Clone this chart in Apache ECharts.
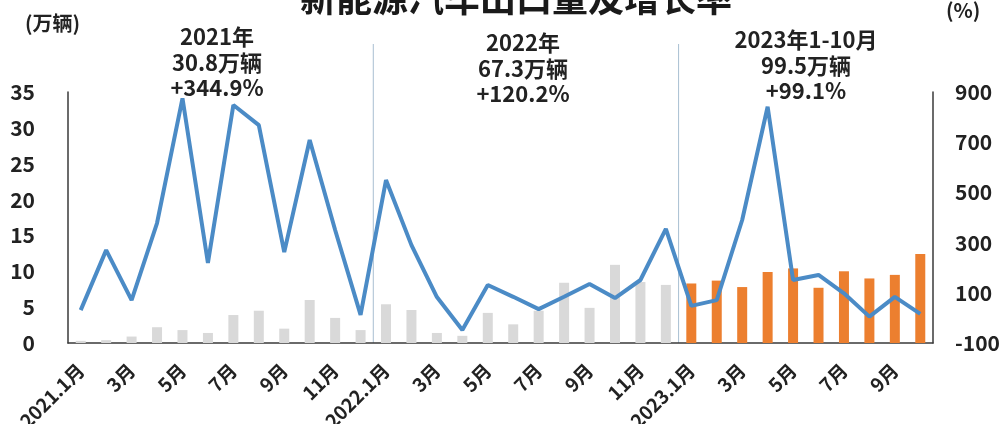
<!DOCTYPE html>
<html><head><meta charset="utf-8">
<script src="https://cdn.jsdelivr.net/npm/echarts@6/dist/echarts.min.js"></script>
<style>html,body{margin:0;padding:0;background:#fff}#c{width:1008px;height:424px}</style>
</head><body><div id="c"></div>
<script>
const categories = [
  '2021.1月','2月','3月','4月','5月','6月','7月','8月','9月','10月','11月','12月',
  '2022.1月','2月','3月','4月','5月','6月','7月','8月','9月','10月','11月','12月',
  '2023.1月','2月','3月','4月','5月','6月','7月','8月','9月','10月'
];
// 出口量（万辆）
const volume = [
  0.3,0.4,0.9,2.2,1.8,1.4,3.9,4.5,2.0,6.0,3.5,1.8,
  5.4,4.6,1.4,1.0,4.2,2.6,4.5,8.4,4.9,10.9,8.5,8.1,
  8.3,8.7,7.8,9.9,10.4,7.7,10.0,9.0,9.5,12.4
];
// 增长率（%）
const growth = [
  31,270,71,378,875,219,848,768,262,709,350,12,
  549,290,83,-48,131,84,35,84,135,79,151,355,
  48,71,390,841,151,171,98,5,84,16
];
const highlightStart = 24; // 2023年起用橙色
const annotations = [
  {lines: ['2021年','30.8万辆','+344.9%']},
  {lines: ['2022年','67.3万辆','+120.2%']},
  {lines: ['2023年1-10月','99.5万辆','+99.1%']}
];
const titleText = '新能源汽车出口量及增长率';
const leftUnit = '(万辆)';
const rightUnit = '(%)';

const FONT = '"Noto Sans CJK SC","Noto Sans",sans-serif';
const chart = echarts.init(document.getElementById('c'), null, {renderer: 'canvas'});
const axisLineStyle = {color: '#3a3a3a', width: 1.5};

chart.setOption({
  animation: false,
  backgroundColor: '#fff',
  grid: {left: 68, right: 75, top: 92, bottom: 81, containLabel: false, outerBoundsMode: 'none'},
  xAxis: {
    type: 'category',
    data: categories,
    boundaryGap: true,
    axisLine: {lineStyle: axisLineStyle},
    axisTick: {show: false},
    axisLabel: {
      interval: 1, rotate: 45, margin: 24,
      fontFamily: FONT, fontWeight: 'bold', fontSize: 19, color: '#222'
    },
    splitLine: {show: false}
  },
  yAxis: [
    {
      type: 'value', min: 0, max: 35, interval: 5,
      axisLine: {show: true, lineStyle: axisLineStyle},
      axisTick: {show: false},
      splitLine: {show: false},
      axisLabel: {margin: 33, fontFamily: FONT, fontWeight: 'bold', fontSize: 21, color: '#222'}
    },
    {
      type: 'value', min: -100, max: 900, interval: 200,
      position: 'right',
      axisLine: {show: true, lineStyle: axisLineStyle},
      axisTick: {show: false},
      splitLine: {show: false},
      axisLabel: {margin: 22, fontFamily: FONT, fontWeight: 'bold', fontSize: 21, color: '#222'}
    }
  ],
  series: [
    {
      name: '出口量', type: 'bar', yAxisIndex: 0, barWidth: 10,
      data: volume,
      itemStyle: {color: p => p.dataIndex >= highlightStart ? '#ec7f2f' : '#d9d9d9'}
    },
    {
      name: '增长率', type: 'line', yAxisIndex: 1, data: growth,
      showSymbol: false, symbol: 'none',
      lineStyle: {color: '#4b8bc6', width: 4},
      z: 5
    }
  ]
});

function place() {
  const px = i => chart.convertToPixel({xAxisIndex: 0}, i);
  const y0 = chart.convertToPixel({yAxisIndex: 0}, 0);
  const elements = [];
  elements.push({
    type: 'text', x: 516, y: -2,
    style: {text: titleText, font: 'bold 36px ' + FONT, fill: '#1a1a1a',
            textAlign: 'center', textVerticalAlign: 'middle'}
  });
  elements.push({
    type: 'text', x: 25, y: 23,
    style: {text: leftUnit, font: 'bold 20px ' + FONT, fill: '#222', textVerticalAlign: 'middle'}
  });
  elements.push({
    type: 'text', x: 946, y: 10,
    style: {text: rightUnit, font: 'bold 20px ' + FONT, fill: '#222', textVerticalAlign: 'middle'}
  });
  // separators between years
  [12, 24].forEach(i => {
    const x = (px(i - 1) + px(i)) / 2;
    elements.push({
      type: 'line', shape: {x1: x, y1: 44, x2: x, y2: y0},
      style: {stroke: '#a9bfd2', lineWidth: 1}
    });
  });
  const tops = [37, 43, 40];
  const centers = [217, 523, 806];
  annotations.forEach((a, k) => {
    a.lines.forEach((t, j) => {
      elements.push({
        type: 'text', x: centers[k], y: tops[k] + j * 25.5,
        style: {text: t, font: 'bold 22px ' + FONT, fill: '#222',
                textAlign: 'center', textVerticalAlign: 'middle'}
      });
    });
  });
  chart.setOption({graphic: {elements}});
}
place();
</script>
</body></html>
